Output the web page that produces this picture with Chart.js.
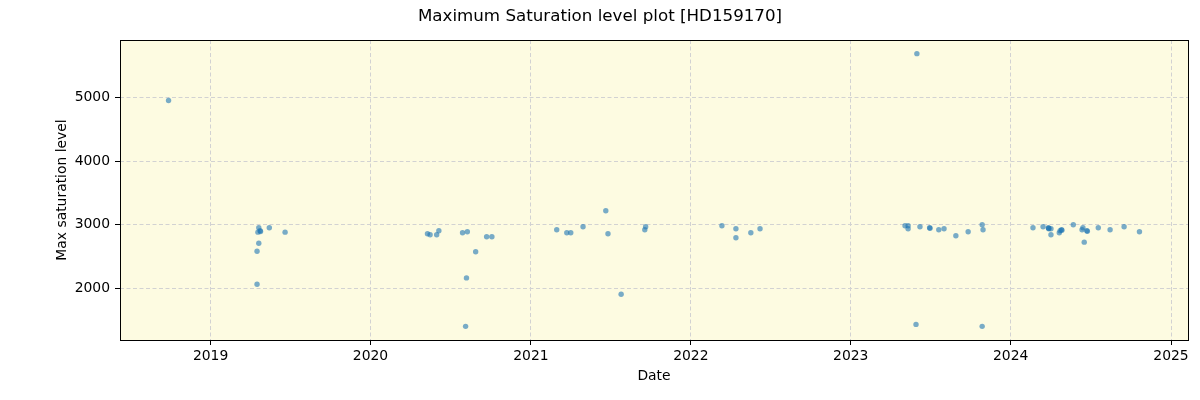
<!DOCTYPE html>
<html>
<head>
<meta charset="utf-8">
<script src="https://cdn.jsdelivr.net/npm/chart.js@4.4.1/dist/chart.umd.min.js"></script>
<style>
html,body{margin:0;padding:0;background:#ffffff;}
#wrap{width:1200px;height:400px;}
</style>
</head>
<body>
<div id="wrap"><canvas id="c" width="1200" height="400"></canvas></div>
<script>
const TITLE = 'Maximum Saturation level plot [HD159170]';
const X_LABEL = 'Date';
const Y_LABEL = 'Max saturation level';

const obsDates = [
  '2018-09-27',
  '2019-04-17','2019-04-17','2019-04-19','2019-04-21','2019-04-21','2019-04-24','2019-04-25','2019-05-15','2019-06-20',
  '2020-05-10','2020-05-16','2020-05-31','2020-06-05','2020-07-29','2020-08-05','2020-08-07','2020-08-09','2020-08-28','2020-09-22','2020-10-04',
  '2021-03-01','2021-03-24','2021-04-02','2021-04-30','2021-06-21','2021-06-26','2021-07-26','2021-09-18','2021-09-20',
  '2022-03-13','2022-04-14','2022-04-14','2022-05-18','2022-06-08',
  '2023-05-05','2023-05-12','2023-05-12','2023-05-30','2023-06-01','2023-06-08','2023-06-30','2023-07-01','2023-07-21','2023-08-02','2023-08-29','2023-09-26','2023-10-28','2023-10-28','2023-10-30',
  '2024-02-21','2024-03-15','2024-03-27','2024-03-28','2024-03-28','2024-04-02','2024-04-02','2024-04-21','2024-04-23','2024-04-26','2024-04-27','2024-05-23','2024-06-12','2024-06-14','2024-06-17','2024-06-23','2024-06-24','2024-07-19','2024-08-15','2024-09-16','2024-10-21'
];
const maxSaturation = [
  4957,
  2584,2063,2884,2953,2710,2905,2895,2953,2884,
  2858,2842,2842,2905,2874,1400,2163,2889,2574,2811,2811,
  2921,2874,2874,2968,3221,2858,1905,2921,2968,
  2984,2937,2795,2874,2937,
  2984,2984,2937,1431,5695,2968,2953,2945,2921,2937,2826,2889,3000,1400,2921,
  2953,2968,2953,2945,2937,2937,2842,2874,2905,2921,2915,3000,2921,2953,2726,2905,2898,2953,2921,2968,2889
];
const xTickYears = [2019, 2020, 2021, 2022, 2023, 2024, 2025];
const yTickValues = [2000, 3000, 4000, 5000];

const DAY = 86400000;
const toDays = s => { const [y,m,d] = s.split('-').map(Number); return Date.UTC(y, m-1, d) / DAY; };
const yearStart = y => Date.UTC(y, 0, 1) / DAY;

const points = obsDates.map((d, i) => ({x: toDays(d), y: maxSaturation[i]}));
const xs = points.map(p => p.x), ys = points.map(p => p.y);
const xLo = Math.min(...xs), xHi = Math.max(...xs);
const yLo = Math.min(...ys), yHi = Math.max(...ys);
const xPad = (xHi - xLo) * 0.05, yPad = (yHi - yLo) * 0.05;

const FONT = 'DejaVu Sans';
const GRID = '#d2d2d2';

const framePlugin = {
  id: 'frame',
  beforeDraw(chart) {
    const {ctx, chartArea: a} = chart;
    ctx.save();
    ctx.fillStyle = '#fdfbe1';
    ctx.fillRect(a.left, a.top, a.right - a.left, a.bottom - a.top);
    ctx.restore();
  },
  afterDraw(chart) {
    const {ctx, chartArea: a} = chart;
    ctx.save();
    ctx.strokeStyle = '#000';
    ctx.lineWidth = 1;
    ctx.strokeRect(Math.round(a.left) + 0.5, Math.round(a.top) + 0.5,
                   Math.round(a.right - a.left), Math.round(a.bottom - a.top));
    ctx.restore();
  }
};

new Chart(document.getElementById('c'), {
  type: 'scatter',
  data: {
    datasets: [{
      data: points,
      backgroundColor: 'rgba(31,119,180,0.6)',
      borderColor: 'rgba(31,119,180,0.6)',
      borderWidth: 0,
      pointRadius: 2.7,
      pointHoverRadius: 2.7
    }]
  },
  options: {
    responsive: false,
    devicePixelRatio: 1,
    animation: false,
    layout: {padding: 0},
    plugins: {
      legend: {display: false},
      tooltip: {enabled: false},
      title: {
        display: true,
        text: TITLE,
        color: '#000',
        font: {family: FONT, size: 16.7, weight: 'normal'},
        padding: {top: 7, bottom: 12.96}
      }
    },
    scales: {
      x: {
        type: 'linear',
        min: xLo - xPad,
        max: xHi + xPad,
        afterBuildTicks: s => { s.ticks = xTickYears.map(y => ({value: yearStart(y)})); },
        afterFit: s => { s.height = 60; },
        ticks: {
          callback: v => String(new Date(v * DAY).getUTCFullYear()),
          color: '#000',
          font: {family: FONT, size: 13.9},
          padding: 3,
          maxRotation: 0,
          autoSkip: false
        },
        grid: {color: GRID, lineWidth: 1, drawTicks: true, tickLength: 5, tickColor: '#000', tickWidth: 1, tickBorderDash: []},
        border: {display: false, dash: [4, 2.5]},
        title: {display: true, text: X_LABEL, color: '#000', font: {family: FONT, size: 13.9}, padding: {top: 0, bottom: 15.6}}
      },
      y: {
        type: 'linear',
        position: 'left',
        min: yLo - yPad,
        max: yHi + yPad,
        afterBuildTicks: s => { s.ticks = yTickValues.map(v => ({value: v})); },
        afterFit: s => { s.width = 120; },
        ticks: {
          callback: v => String(v),
          color: '#000',
          font: {family: FONT, size: 13.9},
          padding: 5
        },
        grid: {color: GRID, lineWidth: 1, drawTicks: true, tickLength: 5, tickColor: '#000', tickWidth: 1, tickBorderDash: []},
        border: {display: false, dash: [4, 2.5]},
        title: {display: true, text: Y_LABEL, color: '#000', font: {family: FONT, size: 13.9}, padding: {top: 53.6, bottom: 0}}
      },
      yRight: {
        type: 'linear',
        position: 'right',
        min: 0,
        max: 1,
        afterFit: s => { s.width = 12; },
        ticks: {display: false},
        grid: {display: false, drawTicks: false},
        border: {display: false},
        title: {display: false}
      }
    }
  },
  plugins: [framePlugin]
});
</script>
</body>
</html>
